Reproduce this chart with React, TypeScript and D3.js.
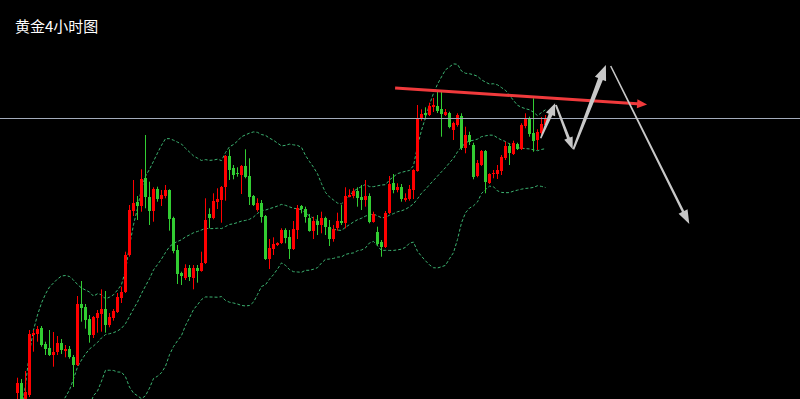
import React, { useEffect, useRef } from 'react';
import * as d3 from 'd3';

const title = '黄金4小时图';

// 4h candles, oldest first
const opens = [
  2307, 2317.3, 2299, 2305, 2365, 2366.3, 2372, 2356, 2352, 2345, 2348, 2356.7, 2349.3, 2351, 2343.3, 2335.3, 2396, 2392.7, 2381, 2365,
  2382.3, 2386, 2391.3, 2375, 2381.7, 2388.3, 2402.3, 2408, 2445, 2488.3, 2498.3, 2494, 2521.7, 2503.3, 2489.3, 2510.7, 2501, 2504, 2510, 2482.3,
  2450, 2426.7, 2422.3, 2432.3, 2422.3, 2432.3, 2429.3, 2436.7, 2486, 2481.7, 2498.3, 2500, 2513.3, 2544, 2531.7, 2526.7, 2525, 2534, 2524, 2504,
  2490, 2497.3, 2484, 2441, 2451, 2455, 2456.7, 2470, 2462.7, 2451, 2470, 2494, 2491, 2482.3, 2469.3, 2479.3, 2475, 2481.7, 2473.3, 2461,
  2471.7, 2479, 2476.7, 2503.3, 2504, 2509, 2503.3, 2500, 2504, 2477.7, 2468.3, 2458.3, 2453, 2486.7, 2516.7, 2510, 2512.7, 2500.7, 2500.7, 2510,
  2529.3, 2580.7, 2587, 2585, 2592.5, 2594, 2590.7, 2585.7, 2587.3, 2569.3, 2575, 2584, 2551.7, 2565, 2555, 2523.3, 2535, 2549.3, 2517.3, 2525.7,
  2526, 2529, 2541.7, 2554, 2546.7, 2556, 2551, 2573.3, 2581.7, 2567.3, 2559.5, 2567, 2575
];
const highs = [
  2322.3, 2321, 2329, 2370, 2370, 2374, 2374, 2358.3, 2370, 2368, 2364, 2361, 2355, 2354, 2345, 2404, 2419, 2396, 2385, 2384,
  2390, 2410.7, 2409, 2387, 2391, 2407, 2413.3, 2448.3, 2495, 2520, 2504, 2530.7, 2565, 2518.3, 2512.7, 2513.3, 2510, 2515, 2510.7, 2483.3,
  2455, 2428.3, 2435.7, 2435, 2435, 2435, 2448.3, 2501.7, 2491.7, 2506.7, 2511.7, 2514, 2545, 2550.7, 2535, 2532.7, 2535, 2550.7, 2541.7, 2505,
  2501.7, 2500, 2485, 2461, 2462.7, 2457.7, 2471.7, 2471.7, 2470, 2479, 2495, 2495, 2493.3, 2486, 2483.3, 2485, 2488.3, 2483.3, 2480, 2475,
  2487.3, 2495, 2512.7, 2510.7, 2511.7, 2512.7, 2515, 2520, 2506.7, 2488.3, 2473.3, 2460, 2489, 2524, 2526, 2516.7, 2516, 2506.7, 2515, 2530.7,
  2595, 2590.7, 2592.7, 2597.3, 2602, 2608.3, 2608.3, 2591, 2588.3, 2578.3, 2586.7, 2586.7, 2573.3, 2568.3, 2557.3, 2540, 2550, 2550, 2526.7, 2530,
  2535, 2545, 2558.3, 2556.7, 2559.3, 2557.3, 2576.7, 2586.7, 2583.3, 2601.7, 2570.7, 2583, 2585
];
const lows = [
  2298, 2295, 2296, 2303, 2348.3, 2358.3, 2353.3, 2345, 2344, 2333.3, 2345, 2346, 2342.7, 2341.3, 2313, 2334, 2378.3, 2371.3, 2357.3, 2362,
  2367.3, 2368.3, 2367.3, 2372.7, 2379.3, 2387, 2397, 2407, 2443.3, 2484, 2480, 2488.3, 2491.7, 2475, 2478.3, 2498.3, 2494, 2501.7, 2469.3, 2446.7,
  2416, 2415, 2420, 2419, 2410.7, 2417.3, 2428.3, 2436, 2471.7, 2480.7, 2491, 2477.3, 2499.3, 2520, 2520.7, 2523.3, 2506, 2521.7, 2495, 2494,
  2488.3, 2477.3, 2440, 2431, 2445, 2454, 2456, 2456.7, 2441, 2450, 2461, 2486.7, 2477.3, 2468.3, 2461, 2465, 2466.7, 2465, 2454, 2458.3,
  2469.3, 2475, 2471.7, 2502.7, 2501.7, 2493.3, 2490, 2493.3, 2476.7, 2477.3, 2454, 2443.3, 2452, 2486, 2506.7, 2507.7, 2498.3, 2498.3, 2499.3, 2501,
  2528.3, 2579.3, 2580.7, 2584, 2588, 2587, 2563.3, 2584, 2571.7, 2560, 2573.3, 2550, 2546.7, 2555, 2520.7, 2522.7, 2534, 2506.7, 2516, 2521.7,
  2521, 2525, 2540, 2535, 2545, 2550, 2550, 2571.7, 2563.3, 2548.3, 2550, 2565, 2573
];
const closes = [
  2317, 2301, 2308, 2366, 2367.3, 2371, 2355, 2351, 2345, 2348, 2356.7, 2350, 2351, 2343.3, 2335.3, 2396, 2392.3, 2379.3, 2365, 2383.3,
  2387.3, 2390.7, 2375, 2383.3, 2389, 2403.3, 2408.3, 2445, 2490, 2496.7, 2494, 2521, 2502.3, 2489.3, 2511, 2501, 2505, 2510, 2481, 2449,
  2426, 2424, 2432.3, 2423.3, 2432.3, 2429.3, 2437.3, 2480, 2481.7, 2499, 2501, 2513.3, 2544, 2530, 2525, 2525.7, 2534, 2523.3, 2503.3, 2495,
  2496.7, 2483.3, 2441, 2452.3, 2456, 2457, 2470, 2461.7, 2451, 2471, 2492.3, 2491, 2482.7, 2469.3, 2479.3, 2475, 2481.7, 2472.7, 2461, 2471,
  2479, 2476.7, 2504, 2505, 2509, 2501.7, 2500, 2504, 2477.7, 2486, 2456.7, 2453, 2487.3, 2516, 2510, 2512.7, 2500.7, 2502.3, 2510.7, 2530,
  2582, 2586, 2585, 2594, 2595, 2589, 2586, 2588.3, 2573.3, 2576.7, 2585, 2551.7, 2565, 2558.3, 2522.7, 2536.7, 2549.3, 2518.3, 2526, 2526.7,
  2530, 2543.3, 2554, 2546.7, 2557.3, 2551, 2575, 2581.7, 2566, 2559.3, 2567.5, 2576, 2581.5
];

// Bollinger values for the first candles (their history is off the chart)
const upperHead = [2270, 2290, 2315, 2348, 2370, 2385, 2397, 2406, 2413, 2417, 2421, 2424, 2424.5, 2423.5, 2420, 2415.5, 2412, 2410, 2408];
const middleHead = [2275, 2277, 2279, 2281, 2283, 2285, 2287, 2289, 2291, 2293, 2295, 2297, 2303, 2310, 2321, 2333, 2340, 2346, 2351];
const lowerHead = [2220, 2224, 2228, 2232, 2236, 2240, 2244, 2248, 2252, 2256, 2260, 2264, 2268, 2272, 2276, 2280, 2284, 2288, 2294];
const bandPeriod = 20;
const bandDev = 2;

// annotations: [candle index, price]
const levelPrice = 2581.5;
const trendLine = [[94.4, 2612.1], [157.4, 2595.5]];
const forecast = [
  [[130.8, 2561.7], [134.4, 2596.7]],
  [[134.6, 2595], [138.8, 2550.7]],
  [[138.95, 2550.7], [147.1, 2635]],
  [[148.3, 2634], [167.95, 2476]]
];
const forecastStyle = [
  { w0: 1.5, w1: 4, len: 12, half: 5 },
  { w0: 2, w1: 3, len: 12, half: 4.5 },
  { w0: 2, w1: 5, len: 15, half: 6 },
  { w0: 1.5, w1: 2.5, len: 14, half: 5 }
];

function arrowPoints(p0, p1, w0, w1, len, half) {
  const dx = p1[0] - p0[0], dy = p1[1] - p0[1];
  const d = Math.hypot(dx, dy);
  const ux = dx / d, uy = dy / d;
  const nx = -uy, ny = ux;
  const bx = p1[0] - ux * len, by = p1[1] - uy * len;
  const pts = [
    [p0[0] + nx * w0 / 2, p0[1] + ny * w0 / 2],
    [bx + nx * w1 / 2, by + ny * w1 / 2],
    [bx + nx * half, by + ny * half],
    [p1[0], p1[1]],
    [bx - nx * half, by - ny * half],
    [bx - nx * w1 / 2, by - ny * w1 / 2],
    [p0[0] - nx * w0 / 2, p0[1] - ny * w0 / 2]
  ];
  return pts.map(p => p.join(',')).join(' ');
}

export default function App() {
  const ref = useRef(null);

  useEffect(() => {
    const width = 800, height = 399;
    const svg = d3.select(ref.current);
    svg.selectAll('*').remove();

    const x = d3.scaleLinear().domain([0, 132]).range([17.5, 545.5]);
    const y = d3.scaleLinear().domain([2301, 2700]).range([height, 0]);

    svg.append('rect').attr('width', width).attr('height', height).attr('fill', '#000');

    const bands = closes.map((c, i) => {
      if (i < bandPeriod - 1) return { i, up: upperHead[i], mid: middleHead[i], low: lowerHead[i] };
      const win = closes.slice(i - bandPeriod + 1, i + 1);
      const mean = d3.mean(win);
      const sd = Math.sqrt(d3.mean(win, v => (v - mean) ** 2));
      return { i, up: mean + bandDev * sd, mid: mean, low: mean - bandDev * sd };
    });

    ['up', 'mid', 'low'].forEach(k => {
      const line = d3.line().x(d => x(d.i)).y(d => y(d[k]));
      svg.append('path')
        .attr('d', line(bands))
        .attr('fill', 'none')
        .attr('stroke', '#3cb371')
        .attr('stroke-width', 1)
        .attr('stroke-dasharray', '3,2');
    });

    const candles = svg.append('g').selectAll('g').data(closes).enter().append('g');
    candles.append('line')
      .attr('x1', (d, i) => x(i)).attr('x2', (d, i) => x(i))
      .attr('y1', (d, i) => y(highs[i])).attr('y2', (d, i) => y(lows[i]))
      .attr('stroke', (d, i) => d >= opens[i] ? '#ff0000' : '#32cd32')
      .attr('stroke-width', 1);
    candles.append('rect')
      .attr('x', (d, i) => x(i) - 1.5)
      .attr('width', 3)
      .attr('y', (d, i) => Math.round(y(Math.max(d, opens[i]))))
      .attr('height', (d, i) => Math.max(1, Math.round(Math.abs(y(d) - y(opens[i])))))
      .attr('fill', (d, i) => d >= opens[i] ? '#ff0000' : '#32cd32');

    svg.append('line')
      .attr('x1', 0).attr('x2', width)
      .attr('y1', y(levelPrice)).attr('y2', y(levelPrice))
      .attr('stroke', '#a3abbb')
      .attr('stroke-width', 1);

    // red resistance line
    const t0 = [x(trendLine[0][0]), y(trendLine[0][1])];
    const t1 = [x(trendLine[1][0]), y(trendLine[1][1])];
    svg.append('polygon')
      .attr('points', arrowPoints(t0, t1, 3, 3, 10, 4.5))
      .attr('fill', '#f03a3c');

    // projected path
    forecast.forEach((seg, k) => {
      const s = forecastStyle[k];
      const p0 = [x(seg[0][0]), y(seg[0][1])];
      const p1 = [x(seg[1][0]), y(seg[1][1])];
      svg.append('polygon')
        .attr('points', arrowPoints(p0, p1, s.w0, s.w1, s.len, s.half))
        .attr('fill', '#c8c8c8');
    });

    svg.append('text')
      .attr('x', 15)
      .attr('y', 32)
      .attr('fill', '#fff')
      .attr('font-size', 15)
      .attr('font-family', '"Noto Sans CJK SC", "Noto Sans", sans-serif')
      .text(title);
  }, []);

  return (
    <svg ref={ref} width={800} height={399}
      style={{ position: 'fixed', left: 0, top: 0, display: 'block' }} />
  );
}
